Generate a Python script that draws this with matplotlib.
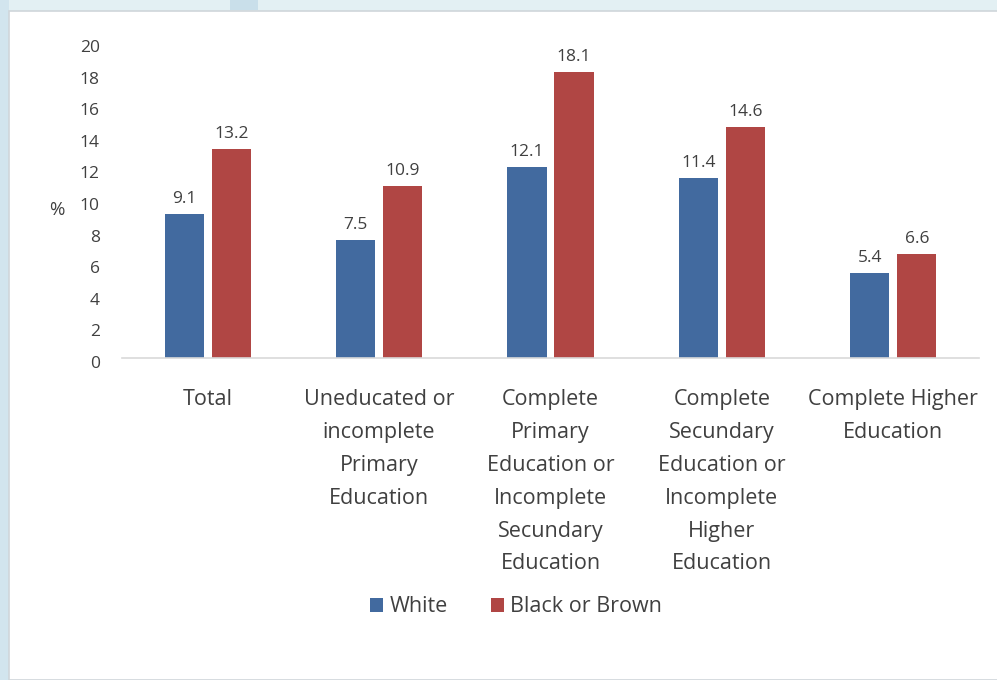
import matplotlib
matplotlib.use("Agg")
import matplotlib.pyplot as plt
from matplotlib.patches import Rectangle
from matplotlib.transforms import ScaledTranslation
import numpy as np

categories = [
    "Total",
    "Uneducated or\nincomplete\nPrimary\nEducation",
    "Complete\nPrimary\nEducation or\nIncomplete\nSecundary\nEducation",
    "Complete\nSecundary\nEducation or\nIncomplete\nHigher\nEducation",
    "Complete Higher\nEducation",
]
white = [9.1, 7.5, 12.1, 11.4, 5.4]
black_brown = [13.2, 10.9, 18.1, 14.6, 6.6]
series_names = ["White", "Black or Brown"]
yticks = list(range(0, 21, 2))

BLUE = "#426a9f"
RED = "#b04644"
TEXT = "#404040"

plt.rcParams["font.family"] = ["Open Sans", "DejaVu Sans"]

W, H = 997, 680
fig = plt.figure(figsize=(W / 100, H / 100), dpi=100)
fig.patch.set_facecolor("#e3f0f3")

# slide frame: pale blue margin with a white panel
fig.patches.append(Rectangle((0, 0), 9 / W, 1, transform=fig.transFigure,
                             facecolor="#d2e5ee", edgecolor="none", zorder=-10))
fig.patches.append(Rectangle((230 / W, 1 - 10 / H), 28 / W, 10 / H, transform=fig.transFigure,
                             facecolor="#c9dfea", edgecolor="none", zorder=-10))
fig.patches.append(Rectangle((9 / W, 0), 1, 1 - 11 / H, transform=fig.transFigure,
                             facecolor="white", edgecolor="#cfd6da", linewidth=1.2, zorder=-10))

ax = fig.add_axes([122 / W, 1 - 358 / H, (979 - 122) / W, (358 - 42) / H])
ax.set_facecolor("none")

x = np.arange(len(categories))
bw = 0.228
off = 0.137
b1 = ax.bar(x - off, white, bw, color=BLUE, label=series_names[0])
b2 = ax.bar(x + off, black_brown, bw, color=RED, label=series_names[1])

for bars, vals in ((b1, white), (b2, black_brown)):
    for rect, v in zip(bars, vals):
        ax.annotate(f"{v:.1f}", (rect.get_x() + rect.get_width() / 2, v),
                    xytext=(0, 5), textcoords="offset points",
                    ha="center", va="bottom", fontsize=12.5, color=TEXT)

ax.set_xlim(-0.5, len(categories) - 0.5)
ax.set_ylim(0, 20)
ax.set_yticks(yticks)
ax.set_xticks(x)
ax.set_xticklabels(categories, fontsize=15.5, color=TEXT, linespacing=1.74, va="top")
ax.tick_params(axis="x", length=0, pad=22.5)
ax.tick_params(axis="y", length=0, pad=16, labelsize=12.5, labelcolor=TEXT)
for lbl in ax.get_yticklabels():
    lbl.set_transform(lbl.get_transform() + ScaledTranslation(0, -4 / 100, fig.dpi_scale_trans))

for side in ("top", "right", "left"):
    ax.spines[side].set_visible(False)
ax.spines["bottom"].set_color("#d9d9d9")
ax.spines["bottom"].set_linewidth(1.2)

ax.set_ylabel("%", rotation=0, fontsize=13.5, color=TEXT, va="center", ha="center")
ax.yaxis.set_label_coords((57 - 122) / (979 - 122), (358 - 210) / (358 - 42))

fig.legend(handles=[b1, b2], labels=series_names, loc="center",
           bbox_to_anchor=(516 / W, 1 - 607 / H), ncol=2, frameon=False,
           fontsize=15.5, handlelength=0.6, handleheight=0.6, handletextpad=0.3,
           columnspacing=2.0, labelcolor=TEXT)

fig.savefig("out.png", dpi=100)
